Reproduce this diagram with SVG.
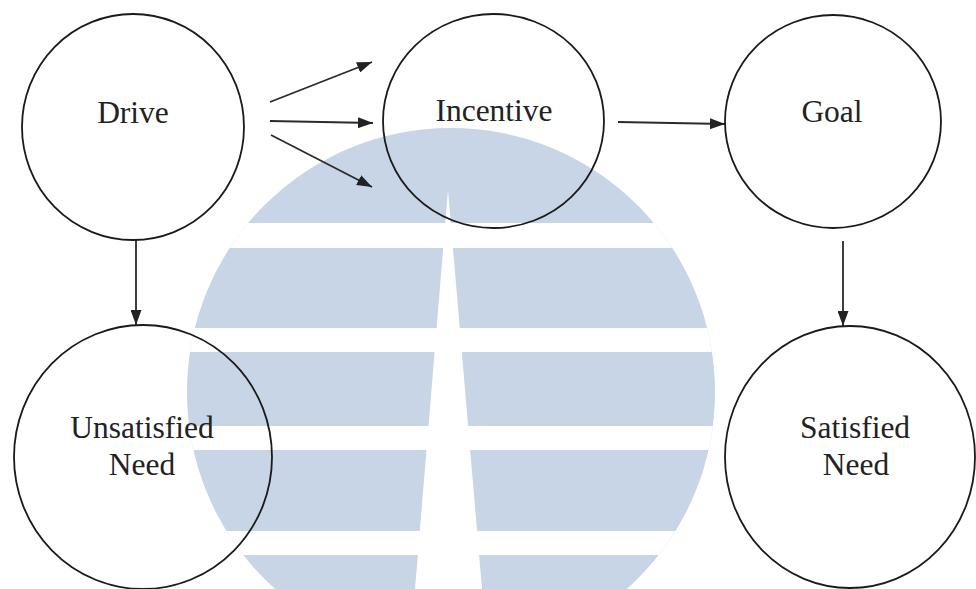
<svg xmlns="http://www.w3.org/2000/svg" width="976" height="589" viewBox="0 0 976 589">
  <style>
    .node { fill: none; stroke: #1a1a1a; stroke-width: 1.8; }
    .label { font-family: "Liberation Serif", "Times New Roman", serif; font-size: 31.5px; fill: #222; text-anchor: middle; }
    .edge { stroke: #2a2a2a; stroke-width: 1.8; fill: none; marker-end: url(#arrow); }
  </style>
  <defs>
    <marker id="arrow" viewBox="0 0 15 11" refX="15" refY="5.5" markerWidth="15" markerHeight="11" markerUnits="userSpaceOnUse" orient="auto">
      <path d="M0,0 L15,5.5 L0,11 Z" fill="#222"/>
    </marker>
    <clipPath id="globeClip">
      <circle cx="451" cy="392" r="264"/>
    </clipPath>
  </defs>
  <rect x="0" y="0" width="976" height="589" fill="#ffffff"/>

  <g id="watermark" clip-path="url(#globeClip)">
    <rect x="180" y="120" width="545" height="480" fill="#c7d5e7"/>
    <rect x="180" y="223" width="545" height="25" fill="#ffffff"/>
    <rect x="180" y="328" width="545" height="24" fill="#ffffff"/>
    <rect x="180" y="426" width="545" height="24" fill="#ffffff"/>
    <rect x="180" y="531" width="545" height="24" fill="#ffffff"/>
    <polygon points="448,190 415,589 482,589" fill="#ffffff"/>
  </g>

  <g id="connectors">
    <line class="edge" x1="270" y1="102" x2="372" y2="62"/>
    <line class="edge" x1="270" y1="121" x2="373" y2="123"/>
    <line class="edge" x1="271" y1="135" x2="372" y2="187"/>
    <line class="edge" x1="618" y1="122" x2="725" y2="124"/>
    <line class="edge" x1="136" y1="240" x2="136" y2="325"/>
    <line class="edge" x1="843" y1="241" x2="843" y2="326"/>
  </g>

  <g id="drive">
    <ellipse class="node" cx="133" cy="127" rx="111" ry="113"/>
    <text class="label" x="133" y="123">Drive</text>
  </g>
  <g id="incentive">
    <ellipse class="node" cx="493.5" cy="121" rx="110.5" ry="107"/>
    <text class="label" x="494" y="121">Incentive</text>
  </g>
  <g id="goal">
    <ellipse class="node" cx="833" cy="121.5" rx="108" ry="106.5"/>
    <text class="label" x="832" y="122">Goal</text>
  </g>
  <g id="unsatisfied-need">
    <ellipse class="node" cx="143" cy="457" rx="129" ry="132"/>
    <text class="label" x="142" y="438">Unsatisfied</text>
    <text class="label" x="142" y="475">Need</text>
  </g>
  <g id="satisfied-need">
    <ellipse class="node" cx="850" cy="457" rx="125" ry="131"/>
    <text class="label" x="855" y="438">Satisfied</text>
    <text class="label" x="856" y="475">Need</text>
  </g>
</svg>
